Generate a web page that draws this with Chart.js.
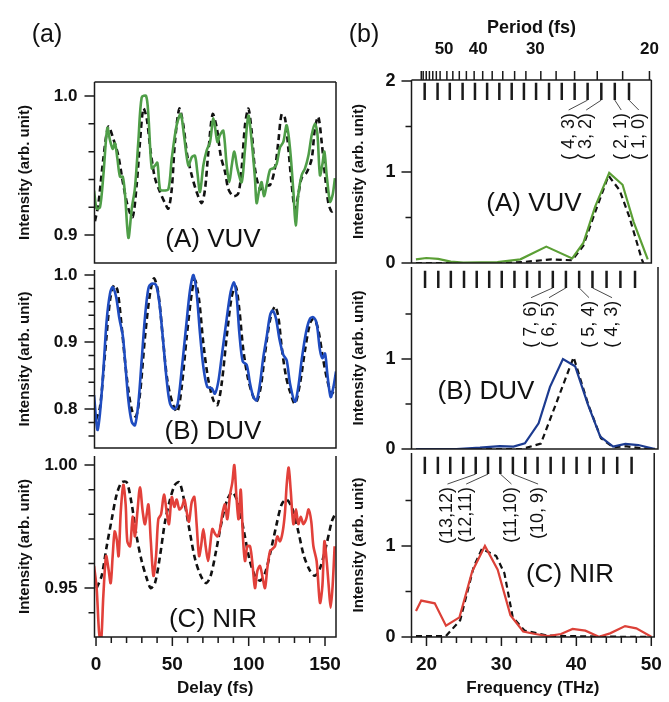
<!DOCTYPE html>
<html>
<head>
<meta charset="utf-8">
<script src="https://cdn.jsdelivr.net/npm/chart.js@4.4.0/dist/chart.umd.min.js"></script>
<style>
  body { margin: 0; background: #fff; }
  #wrap { position: relative; width: 669px; height: 702px; overflow: hidden; }
  canvas { position: absolute; left: 0; top: 0; }
  .t { position: absolute; font-family: "Liberation Sans", Arial, sans-serif; line-height: 1;
       transform: translate(-50%, -50%); white-space: nowrap; color: #111; }
</style>
</head>
<body>
<div id="wrap">
  <canvas id="la" width="669" height="702"></canvas>
  <canvas id="lb" width="669" height="702"></canvas>
  <canvas id="lc" width="669" height="702"></canvas>
  <canvas id="ra" width="669" height="702"></canvas>
  <canvas id="rb" width="669" height="702"></canvas>
  <canvas id="rc" width="669" height="702"></canvas>
  <div class="t" style="left:47px;top:33px;font-size:25px">(a)</div>
  <div class="t" style="left:364px;top:33px;font-size:25px">(b)</div>
  <div class="t" style="left:213px;top:238px;font-size:26px">(A) VUV</div>
  <div class="t" style="left:213px;top:430px;font-size:26px">(B) DUV</div>
  <div class="t" style="left:213px;top:618px;font-size:26px">(C) NIR</div>
  <div class="t" style="left:534px;top:202px;font-size:26px">(A) VUV</div>
  <div class="t" style="left:486px;top:390px;font-size:26px">(B) DUV</div>
  <div class="t" style="left:570px;top:573px;font-size:26px">(C) NIR</div>
</div>
<script>
// ---- delay traces (fs, normalized intensity) ----
const vuvTrace = [[-1.3,0.932],[0.4,0.919],[2.6,0.920],[4.8,0.943],[7.4,0.977],[9.2,0.968],[10.9,0.962],[12.4,0.966],[14,0.955],[15.7,0.942],[17.5,0.942],[19,0.929],[21.2,0.898],[23.4,0.919],[25.5,0.934],[27.7,0.967],[29.9,0.999],[32.8,1.0],[34.3,0.986],[36.5,0.948],[38.6,0.950],[40.2,0.952],[41.9,0.933],[44.1,0.932],[47.4,0.933],[49.6,0.955],[52.8,0.979],[55.5,0.987],[57.6,0.972],[60.5,0.950],[62.7,0.956],[64.8,0.957],[66.4,0.945],[68.1,0.931],[70.3,0.950],[72.5,0.961],[74.7,0.967],[76.9,0.984],[79.5,0.967],[81.2,0.972],[83.4,0.975],[85.6,0.950],[87.3,0.938],[88.9,0.950],[90.6,0.960],[92.6,0.948],[95.4,0.938],[97.6,0.962],[99.8,0.986],[102,0.967],[104.1,0.941],[105.2,0.923],[107,0.933],[108.5,0.938],[110,0.928],[111.8,0.936],[114,0.947],[116.2,0.948],[118.3,0.951],[120.5,0.963],[122.7,0.967],[124.9,0.979],[127.1,0.962],[129.3,0.931],[130.8,0.907],[132.5,0.929],[134.7,0.943],[136.9,0.948],[139.1,0.957],[141.3,0.972],[143.4,0.980],[145,0.973],[146.7,0.943],[148.3,0.951],[149.6,0.960],[151.1,0.943],[153.3,0.924],[155,0.929],[156.5,0.941]];
const vuvModel = [[-0.7,0.910],[1.5,0.922],[4.8,0.955],[8.1,0.978],[11.4,0.969],[14.6,0.957],[17.9,0.936],[21.2,0.919],[24,0.913],[26.6,0.936],[28.8,0.967],[31,0.991],[33.2,0.984],[35.8,0.960],[38.6,0.941],[41.9,0.931],[45.2,0.923],[47.4,0.919],[49.6,0.933],[51.7,0.967],[54.6,0.991],[57.2,0.979],[59.8,0.957],[62.7,0.943],[65.9,0.931],[69.2,0.923],[71.4,0.933],[73.6,0.960],[76.4,0.987],[79.1,0.977],[81.7,0.957],[84.6,0.945],[86.7,0.933],[90,0.928],[93.2,0.930],[95.4,0.948],[97.6,0.979],[99.8,0.991],[102,0.974],[104.1,0.948],[107.4,0.933],[110.7,0.936],[114,0.936],[117.2,0.948],[119.4,0.967],[121.6,0.987],[123.8,0.984],[126,0.962],[128.2,0.936],[130.3,0.919],[132.5,0.929],[134.7,0.941],[138,0.945],[141.3,0.955],[143.4,0.977],[145.6,0.985],[147.8,0.967],[150,0.943],[152.2,0.923],[154.4,0.917],[156.5,0.919]];

const duvTrace = [[-1.3,0.821],[0.9,0.769],[2.6,0.794],[4.8,0.858],[7,0.933],[9.2,0.973],[10.9,0.982],[13.1,0.968],[15.3,0.935],[17.5,0.910],[19,0.873],[21.2,0.813],[23.4,0.781],[25.5,0.776],[27.7,0.808],[29.9,0.873],[32.1,0.938],[34.3,0.980],[36.5,0.987],[39.3,0.985],[41.5,0.958],[44.1,0.898],[46.3,0.843],[48.5,0.808],[51.3,0.800],[53.5,0.808],[56.1,0.858],[59,0.923],[61.6,0.978],[63.8,1.0],[65.9,0.973],[68.1,0.913],[70.3,0.863],[72.9,0.833],[75.8,0.831],[77.9,0.823],[80.1,0.841],[82.3,0.878],[85.6,0.935],[88.2,0.975],[90.4,0.989],[92.1,0.968],[93.9,0.913],[96.1,0.871],[98.7,0.866],[100.9,0.838],[103.1,0.818],[105.2,0.813],[107.4,0.838],[109.6,0.878],[111.8,0.908],[114,0.940],[115.7,0.947],[117.9,0.935],[120.1,0.905],[122.7,0.881],[124.9,0.873],[127.1,0.838],[130.3,0.811],[132.5,0.833],[134.7,0.873],[137.6,0.915],[140.2,0.935],[142.4,0.937],[144.5,0.928],[146.7,0.888],[148.3,0.876],[150,0.883],[151.5,0.853],[153.7,0.818],[155.5,0.833],[157.2,0.856]];
const duvModel = [[0,0.784],[2.6,0.803],[5.9,0.883],[9.2,0.963],[11.8,0.985],[14,0.978],[16.8,0.923],[20.1,0.848],[23.4,0.799],[26.2,0.789],[28.8,0.823],[32.1,0.908],[35.4,0.973],[38,0.995],[40.8,0.973],[43.7,0.908],[46.7,0.843],[50.2,0.808],[53.3,0.796],[56.1,0.833],[59.4,0.908],[62.7,0.973],[64.8,0.993],[67.5,0.963],[70.3,0.898],[73.6,0.843],[76.9,0.813],[79.5,0.806],[82.3,0.838],[85.6,0.908],[88.9,0.968],[91.5,0.983],[93.9,0.948],[96.5,0.888],[99.8,0.843],[103.1,0.818],[105.2,0.811],[107.9,0.833],[110.7,0.883],[114,0.933],[117.2,0.953],[119.4,0.938],[121.6,0.893],[124.5,0.848],[127.1,0.826],[130.3,0.808],[133.6,0.838],[136.9,0.888],[140.2,0.928],[142.8,0.935],[145.6,0.918],[148.5,0.878],[151.5,0.843],[154.4,0.823],[156.5,0.833]];

const nirTrace = [[-1.3,0.959],[0.4,0.950],[2,0.932],[3.3,0.928],[4.8,0.947],[6.6,0.963],[8.1,0.958],[9.6,0.952],[10.9,0.963],[12.2,0.973],[13.5,0.970],[14.8,0.963],[16.2,0.981],[17.9,0.992],[19.4,0.984],[20.5,0.969],[22.3,0.967],[24,0.979],[25.5,0.971],[27.1,0.981],[28.8,0.991],[30.6,0.981],[32.1,0.976],[34.3,0.984],[35.8,0.970],[37.6,0.955],[39.3,0.963],[40.8,0.978],[42.6,0.980],[44.5,0.988],[46.3,0.981],[47.8,0.976],[49.6,0.987],[51.3,0.983],[52.8,0.986],[54.6,0.982],[56.3,0.983],[57.9,0.986],[59.4,0.981],[60.9,0.977],[62.7,0.985],[64.4,0.987],[65.9,0.976],[67.5,0.963],[68.8,0.967],[70.3,0.974],[71.8,0.967],[73.4,0.961],[74.7,0.967],[76.2,0.974],[78,0.972],[79.7,0.971],[81.2,0.974],[83,0.981],[84.5,0.984],[86,0.978],[87.8,0.988],[89.3,0.993],[90.6,1.0],[92.1,0.986],[93.4,0.978],[94.8,0.990],[96.3,0.970],[97.6,0.961],[99.1,0.967],[100.9,0.967],[102.6,0.959],[104.1,0.950],[105.7,0.957],[107.4,0.959],[109.2,0.954],[110.7,0.950],[112.2,0.958],[114,0.965],[115.7,0.966],[117.2,0.967],[118.8,0.971],[120.5,0.969],[122.3,0.973],[123.8,0.981],[124.9,0.992],[126.2,0.999],[127.5,0.990],[129.3,0.976],[131,0.982],[132.5,0.976],[134.1,0.979],[135.8,0.976],[137.6,0.978],[139.3,0.982],[141,0.977],[142.4,0.967],[144.5,0.961],[146.7,0.944],[148.3,0.951],[149.6,0.969],[151.1,0.961],[152.4,0.951],[153.7,0.942],[155,0.951],[156.3,0.967]];
const nirModel = [[0.4,0.950],[3.7,0.955],[7,0.967],[10.3,0.978],[13.5,0.988],[16.8,0.993],[20.1,0.993],[23.4,0.984],[26.6,0.971],[29.9,0.961],[33.2,0.954],[35.8,0.950],[38.6,0.952],[41.9,0.963],[45.2,0.977],[48.5,0.986],[51.7,0.992],[54.6,0.993],[57.6,0.986],[61.1,0.974],[64.8,0.962],[68.6,0.955],[72.1,0.952],[75.1,0.955],[78.6,0.965],[82.3,0.977],[86,0.986],[89.5,0.989],[93.2,0.984],[96.9,0.973],[100.4,0.962],[104.1,0.955],[107.4,0.953],[110.7,0.956],[114.4,0.965],[118.3,0.976],[121.6,0.984],[124.9,0.986],[128.8,0.982],[132.5,0.973],[136.2,0.963],[140.2,0.957],[143.4,0.955],[146.7,0.958],[150.7,0.967],[154.4,0.977],[156.5,0.980]];

// ---- spectra (THz, normalized) ----
const vuvSpec = [[18.6,0.04],[20.0,0.055],[21.6,0.045],[23.3,0.015],[25.0,0.005],[29.6,0.01],[32.7,0.04],[36.2,0.18],[39.7,0.05],[41.2,0.22],[42.8,0.62],[44.7,0.99],[46.5,0.86],[48.0,0.45],[49.9,0.04]];
const vuvSpecModel = [[18.6,0.0],[30.0,0.0],[33.0,0.01],[36.9,0.04],[39.7,0.03],[41.2,0.19],[42.8,0.56],[44.6,0.96],[46.1,0.8],[47.4,0.51],[49.1,0.04],[49.3,0.0]];
const duvSpec = [[18.6,0.0],[23.9,0.0],[27,0.015],[29.6,0.033],[31.4,0.026],[32.9,0.063],[34.7,0.285],[36.2,0.69],[37.9,1.0],[39.5,0.92],[41.2,0.49],[42.8,0.137],[44.5,0.026],[46.1,0.056],[47.8,0.044],[50,0.0]];
const duvSpecModel = [[18.6,0.0],[32.5,0.0],[34.2,0.04],[35.0,0.06],[37.2,0.55],[39.3,1.02],[41.2,0.5],[42.9,0.12],[44.5,0.02],[46.3,0.03],[48.0,0.01],[50,0.0]];
const nirSpec = [[18.6,0.286],[19.3,0.40],[21.1,0.37],[22.6,0.124],[24.4,0.216],[26.1,0.72],[27.8,1.0],[29.5,0.74],[31.2,0.24],[32.9,0.06],[34.5,0.033],[36.2,0.01],[37.95,0.033],[39.5,0.088],[41.2,0.07],[43.0,0.003],[44.5,0.04],[46.5,0.12],[48.0,0.095],[50.0,0.003]];
const nirSpecModel = [[18.6,0.01],[22.6,0.01],[24.5,0.185],[26.3,0.77],[27.4,0.97],[29.3,0.89],[30.4,0.70],[31.5,0.22],[33.1,0.07],[36.2,0.015],[42.7,0.005],[50,0.0]];

// vibrational beat frequencies (THz) marked at the top of each spectrum
const beatMarks = [19.78, 21.52, 23.17, 24.90, 26.57, 28.21, 29.86, 31.53, 33.18, 34.82, 36.57, 38.29, 40.03, 41.78, 43.63, 45.45, 47.37];
const periodTicks = [60, 59, 57.5, 56, 54.5, 53, 51.5, 49, 47, 45, 43, 41, 39, 37, 35, 33, 31.3, 29.3, 27.5, 25.6, 23.6, 21.7, 20];
const periodLabels = [50, 40, 30, 20];
const delayLabels = [0, 50, 100, 150];
const freqLabels = [20, 30, 40, 50];

const FONT = '"Liberation Sans", Arial, sans-serif';
Chart.defaults.font.family = FONT;
Chart.defaults.color = '#111';

const green = '#4f9e48', blue = '#1f4cc0', red = '#e2403a';
const greenR = '#5b9f35', blueR = '#1c3b90', redR = '#dc4138';

const decoPlugin = {
  id: 'deco',
  afterDatasetsDraw(chart, args, o) {
    const ctx = chart.ctx, a = chart.chartArea;
    const xs = chart.scales.x, ys = chart.scales.y;
    ctx.save();
    ctx.strokeStyle = '#1a1a1a';
    ctx.lineWidth = 1.5;
    ctx.beginPath();
    if (o.frameTop) { ctx.moveTo(a.left, a.top); ctx.lineTo(a.right, a.top); }
    ctx.moveTo(a.left, a.top); ctx.lineTo(a.left, a.bottom);
    ctx.lineTo(a.right, a.bottom); ctx.lineTo(a.right, a.top);
    (o.yMajor || []).forEach(v => { const p = ys.getPixelForValue(v); ctx.moveTo(a.left - 10, p); ctx.lineTo(a.left, p); });
    (o.yMinor || []).forEach(v => { const p = ys.getPixelForValue(v); ctx.moveTo(a.left - 6, p); ctx.lineTo(a.left, p); });
    (o.xMajor || []).forEach(v => { const p = xs.getPixelForValue(v); ctx.moveTo(p, a.bottom); ctx.lineTo(p, a.bottom + 9); });
    (o.xMinor || []).forEach(v => { const p = xs.getPixelForValue(v); ctx.moveTo(p, a.bottom); ctx.lineTo(p, a.bottom + 6); });
    if (o.topTicks) {
      const ts = chart.scales.xTop;
      o.topTicks.forEach(per => { const p = ts.getPixelForValue(1000 / per); ctx.moveTo(p, a.top - 9); ctx.lineTo(p, a.top); });
    }
    ctx.stroke();

    if (o.marks) {
      ctx.lineWidth = 2.5;
      ctx.beginPath();
      o.marks.forEach(m => {
        const p = xs.getPixelForValue(m);
        ctx.moveTo(p, ys.getPixelForValue(1.98));
        ctx.lineTo(p, ys.getPixelForValue(1.79));
      });
      ctx.stroke();
    }
    if (o.assign) {
      ctx.lineWidth = 0.8;
      ctx.fillStyle = '#111';
      ctx.font = '18px ' + FONT;
      o.assign.forEach(l => {
        const lx = xs.getPixelForValue(l.at), ly = ys.getPixelForValue(1.67);
        ctx.beginPath();
        ctx.moveTo(lx, ly - 1);
        ctx.lineTo(xs.getPixelForValue(l.mark), ys.getPixelForValue(1.79));
        ctx.stroke();
        ctx.save();
        ctx.translate(lx, ly + 2);
        ctx.rotate(-Math.PI / 2);
        ctx.textAlign = 'right';
        ctx.textBaseline = 'middle';
        ctx.fillText(l.text, 0, 0);
        ctx.restore();
      });
    }
    ctx.restore();
  }
};

function series(data, color, width, dashed, tension) {
  return {
    data: data.map(p => ({x: p[0], y: p[1]})),
    borderColor: dashed ? '#111' : color,
    borderWidth: width,
    borderDash: dashed ? [6, 4] : [],
    pointRadius: 0,
    tension: tension,
    fill: false
  };
}

function makePanel(id, p) {
  const tickGrid = len => ({display: true, drawOnChartArea: false, color: 'rgba(0,0,0,0)', tickLength: len});
  const scales = {
    x: {
      type: 'linear', min: p.xMin, max: p.xMax, display: !!p.xTitle,
      afterFit: s => { if (p.xTitle) s.height = 702 - p.bottom; },
      afterBuildTicks: s => { s.ticks = (p.xLabels || []).map(v => ({value: v})); },
      grid: tickGrid(9),
      border: {display: false},
      ticks: {autoSkip: false, maxRotation: 0, padding: 7, font: {size: 19, weight: 'bold'}, callback: v => String(v)},
      title: {display: !!p.xTitle, text: p.xTitle, font: {size: 17, weight: 'bold'}, padding: {top: 0, bottom: 3}}
    },
    y: {
      min: p.yMin, max: p.yMax,
      afterFit: s => { s.width = p.left - p.axisLeft; },
      afterBuildTicks: s => { s.ticks = p.yMajor.map(v => ({value: v})); },
      grid: tickGrid(10),
      border: {display: false},
      ticks: {autoSkip: false, padding: p.yPad, font: {size: p.yFont, weight: 'bold'}, callback: v => v.toFixed(p.yDec)},
      title: {display: true, text: 'Intensity (arb. unit)', font: {size: 15, weight: 'bold'}, padding: {top: p.titlePad, bottom: 0}}
    }
  };
  if (p.topAxis) {
    scales.xTop = {
      type: 'linear', position: 'top', axis: 'x', min: 15.24, max: 50.28,
      afterFit: s => { s.height = p.top; },
      afterBuildTicks: s => { s.ticks = periodLabels.map(v => ({value: 1000 / v})); },
      grid: tickGrid(10),
      border: {display: false},
      ticks: {autoSkip: false, maxRotation: 0, padding: 10, font: {size: 17, weight: 'bold'}, callback: v => String(Math.round(1000 / v))},
      title: {display: true, text: 'Period (fs)', font: {size: 18, weight: 'bold'}, padding: {top: 17, bottom: 0}}
    };
  }
  return new Chart(document.getElementById(id), {
    type: 'line',
    data: {datasets: p.datasets},
    options: {
      responsive: false,
      animation: false,
      devicePixelRatio: 1,
      events: [],
      layout: {padding: {
        left: p.axisLeft,
        right: 669 - p.right,
        top: p.topAxis ? 0 : p.top,
        bottom: p.xTitle ? 0 : 702 - p.bottom
      }},
      scales: scales,
      plugins: {
        legend: {display: false},
        tooltip: {enabled: false},
        deco: {
          frameTop: p.frameTop, yMajor: p.yMajor, yMinor: p.yMinor,
          xMajor: p.xTitle ? p.xLabels : null, xMinor: p.xTitle ? p.xMinor : null,
          topTicks: p.topAxis ? periodTicks : null,
          marks: p.marks ? beatMarks : null, assign: p.assign
        }
      }
    },
    plugins: [decoPlugin]
  });
}

const leftBase = {axisLeft: 0, left: 94.5, right: 336, xMin: -1.0, xMax: 157.2, yPad: 7, yFont: 17, titlePad: 16};
const rightBase = {axisLeft: 340, left: 411.5, right: 658, xMin: 18.0, xMax: 50.39, yPad: 6, yFont: 18, titlePad: 10,
  yMajor: [0, 1], yMinor: [0.5, 1.5], yDec: 0, marks: true};

makePanel('la', Object.assign({}, leftBase, {
  top: 82, bottom: 263, yMin: 0.8799, yMax: 1.0101, frameTop: true,
  yMajor: [1.0, 0.9], yMinor: [0.98, 0.96, 0.94, 0.92], yDec: 1,
  datasets: [series(vuvTrace, green, 2.6, false, 0.3), series(vuvModel, '#111', 2.6, true, 0.3)]
}));
makePanel('lb', Object.assign({}, leftBase, {
  top: 270, bottom: 448, yMin: 0.742, yMax: 1.0075,
  yMajor: [1.0, 0.9, 0.8], yMinor: [0.98, 0.96, 0.94, 0.92, 0.88, 0.86, 0.84, 0.82, 0.78, 0.76], yDec: 1,
  datasets: [series(duvTrace, blue, 2.6, false, 0.3), series(duvModel, '#111', 2.6, true, 0.3)]
}));
makePanel('lc', Object.assign({}, leftBase, {
  top: 456, bottom: 637, yMin: 0.9301, yMax: 1.0037,
  yMajor: [1.0, 0.95], yMinor: [0.99, 0.98, 0.97, 0.96, 0.94], yDec: 2,
  xTitle: 'Delay (fs)', xLabels: delayLabels, xMinor: [10, 20, 30, 40, 60, 70, 80, 90, 110, 120, 130, 140],
  datasets: [series(nirTrace, red, 2.6, false, 0.3), series(nirModel, '#111', 2.6, true, 0.3)]
}));
makePanel('ra', Object.assign({}, rightBase, {
  top: 80, bottom: 263, yMin: 0, yMax: 2.011, frameTop: true, topAxis: true,
  yMajor: [0, 1, 2],
  assign: [{text: '( 4, 3)', at: 39.22, mark: 41.78}, {text: '( 3, 2)', at: 41.59, mark: 43.63},
           {text: '( 2, 1)', at: 46.32, mark: 45.45}, {text: '( 1, 0)', at: 48.69, mark: 47.37}],
  datasets: [series(vuvSpec, greenR, 2.2, false, 0), series(vuvSpecModel, '#111', 2.2, true, 0)]
}));
makePanel('rb', Object.assign({}, rightBase, {
  top: 267, bottom: 449, yMin: 0, yMax: 2.022,
  assign: [{text: '( 7, 6)', at: 33.71, mark: 36.57}, {text: '( 6, 5)', at: 36.07, mark: 38.29},
           {text: '( 5, 4)', at: 41.33, mark: 40.03}, {text: '( 4, 3)', at: 44.35, mark: 41.78}],
  datasets: [series(duvSpec, blueR, 2.2, false, 0), series(duvSpecModel, '#111', 2.2, true, 0)]
}));
makePanel('rc', Object.assign({}, rightBase, {
  top: 453, bottom: 637, yMin: 0, yMax: 2.022,
  xTitle: 'Frequency (THz)', xLabels: freqLabels, xMinor: [18, 22, 24, 26, 28, 32, 34, 36, 38, 42, 44, 46, 48],
  assign: [{text: '(13,12)', at: 22.8, mark: 26.57}, {text: '(12,11)', at: 25.3, mark: 28.21},
           {text: '(11,10)', at: 31.34, mark: 29.86}, {text: '(10, 9)', at: 34.89, mark: 31.53}],
  datasets: [series(nirSpec, redR, 2.2, false, 0), series(nirSpecModel, '#111', 2.2, true, 0)]
}));
</script>
</body>
</html>
